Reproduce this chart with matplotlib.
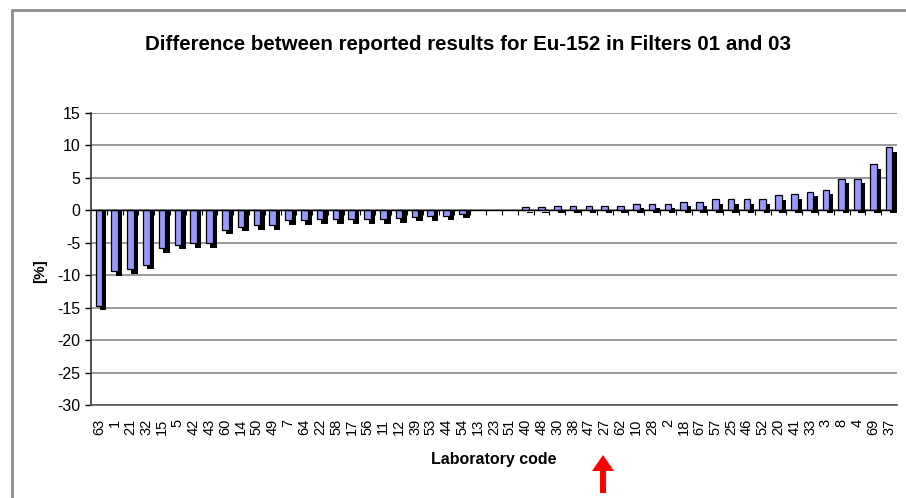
import matplotlib
matplotlib.use('Agg')
import matplotlib.pyplot as plt
from matplotlib import font_manager
from matplotlib.patches import FancyArrow, Rectangle
import numpy as np

# pick a narrow Arial-like font when available
names = {f.name for f in font_manager.fontManager.ttflist}
narrow = 'Liberation Sans Narrow' if 'Liberation Sans Narrow' in names else 'Liberation Sans'
plt.rcParams['font.family'] = [narrow, 'DejaVu Sans']
plt.rcParams['axes.unicode_minus'] = False

# data
labs = ['63', '1', '21', '32', '15', '5', '42', '43', '60', '14', '50', '49', '7', '64',
        '22', '58', '17', '56', '11', '12', '39', '53', '44', '54', '13', '23', '51',
        '40', '48', '30', '38', '47', '27', '62', '10', '28', '2', '18', '67', '57',
        '25', '46', '52', '20', '41', '33', '3', '8', '4', '69', '37']
vals = [-14.7, -9.4, -9.1, -8.4, -5.8, -5.3, -5.1, -5.1, -3.0, -2.5, -2.3, -2.3, -1.5, -1.5,
        -1.4, -1.4, -1.4, -1.4, -1.4, -1.2, -1.0, -0.9, -0.8, -0.5, 0, 0, 0,
        0.5, 0.5, 0.6, 0.6, 0.6, 0.7, 0.7, 1.0, 1.0, 1.0, 1.3, 1.3, 1.7,
        1.7, 1.7, 1.7, 2.3, 2.5, 2.9, 3.2, 4.9, 4.9, 7.1, 9.7]

x = np.arange(len(labs))
v = np.array(vals)
nz = v != 0

fig = plt.figure(figsize=(9.06, 4.98), dpi=100)
ax = fig.add_axes([91 / 906, 93 / 498, 806 / 906, 292 / 498])

# chart area border (top and left edge of the excel frame)
fig.patches.append(Rectangle((12 / 906, -0.1), 1.2, 1.1 - 10 / 498,
                             transform=fig.transFigure, fill=False,
                             edgecolor='#8c8c8c', linewidth=2))

# 3d-ish columns: dark side drawn behind the face
sb = np.where(v > 0, -0.4, 0.0)
ax.bar(x[nz] + 0.27, (v - 0.7 - sb)[nz], width=0.42, bottom=sb[nz], color='black', zorder=2)
ax.bar(x[nz], v[nz], width=0.42, color='#9999ff', edgecolor='black',
       linewidth=0.9, zorder=3)

ax.set_xlim(-0.5, len(labs) - 0.5)
ax.set_ylim(-30, 15)
ax.set_yticks(np.arange(-30, 16, 5))
ax.yaxis.grid(True, color='#7f7f7f', linewidth=1.1)
ax.set_axisbelow(True)

# category axis at zero with small ticks between columns
ax.axhline(0, color='black', linewidth=1, zorder=4)
ax.vlines(x[:-1] + 0.5, -0.7, 0, color='black', linewidth=0.8, zorder=4)

ax.set_xticks(x)
ax.set_xticklabels(labs, rotation=90, fontsize=10.5)
ax.tick_params(axis='x', length=0, pad=10)
ax.tick_params(axis='y', labelsize=11.5, length=4, direction='out', width=1)

for s in ['top', 'right']:
    ax.spines[s].set_visible(False)
ax.spines['left'].set_color('#333333')
ax.spines['left'].set_linewidth(1.2)
ax.spines['bottom'].set_color('#555555')
ax.spines['bottom'].set_linewidth(1.2)

fig.text(468 / 906, 1 - 45 / 498, 'Difference between reported results for Eu-152 in Filters 01 and 03',
         ha='center', va='center', fontsize=14.8, fontweight='bold')
ax.set_ylabel('[%]', fontsize=11, fontweight='bold')
ax.yaxis.set_label_coords(-0.054, 0.46)
ax.set_xlabel('Laboratory code', fontsize=11.5, fontweight='bold', labelpad=12)

# red arrow under the chart
fig.patches.append(FancyArrow(603 / 906, 5 / 498, 0, 38 / 498, width=6 / 906,
                              head_width=22 / 906, head_length=16 / 498,
                              length_includes_head=True, transform=fig.transFigure,
                              color='red', linewidth=0))

fig.savefig('out.png', dpi=100)
